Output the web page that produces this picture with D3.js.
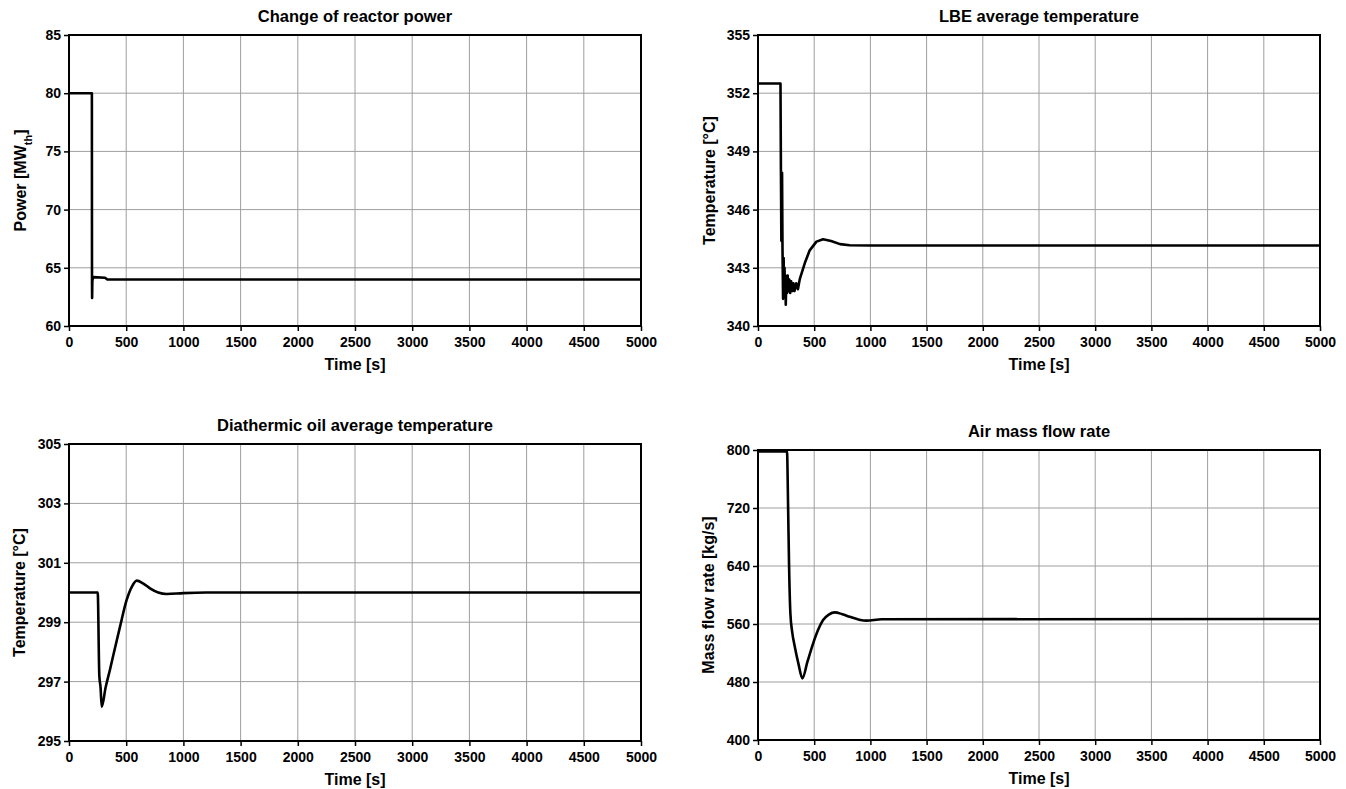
<!DOCTYPE html>
<html>
<head>
<meta charset="utf-8" />
<style>
  html, body { margin: 0; padding: 0; background: #fff; }
  svg { font-family: "Liberation Sans", Arial, sans-serif; font-weight: bold; }
  .grid line { stroke: #9e9e9e; stroke-width: 1px; }
  .frame { fill: none; stroke: #000; stroke-width: 2px; }
  .curve { fill: none; stroke: #000; stroke-width: 2.6px; stroke-linejoin: round; }
  .tick text { font-size: 14px; fill: #000; }
  .tick line { stroke: #000; stroke-width: 1.5px; }
  .title { font-size: 16.5px; fill: #000; }
  .label { font-size: 16px; fill: #000; }
</style>
</head>
<body>
<div id="vis"></div>
<script src="https://d3js.org/d3.v7.min.js"></script>
<script>
// ** DATA **
var timeTicks = [0, 500, 1000, 1500, 2000, 2500, 3000, 3500, 4000, 4500, 5000];

var powerTicks = [60, 65, 70, 75, 80, 85];
var powerData = [[0, 80], [200, 80], [201, 64], [202, 62.4], [204, 63.9], [212, 64.2],
  [315, 64.15], [335, 64.0], [5000, 64.0]];

var lbeTicks = [340, 343, 346, 349, 352, 355];
var lbeData = [[0, 352.5], [200, 352.5], [204, 348], [208, 344.4], [212, 346], [214, 347.9],
  [218, 344], [223, 341.4], [228, 343.5], [232, 341.8], [236, 343], [240, 341.6], [244, 342.6],
  [247, 341.1], [252, 342.5], [258, 341.7], [264, 342.6], [270, 341.8], [278, 342.4], [286, 341.7],
  [295, 342.3], [305, 341.8], [315, 342.2], [325, 341.8], [340, 342.2], [355, 341.9], [371, 342.4],
  [420, 343.3], [460, 343.9], [520, 344.35], [579, 344.47], [650, 344.38], [730, 344.22],
  [816, 344.16], [1000, 344.15], [5000, 344.15]];

var oilTicks = [295, 297, 299, 301, 303, 305];
var oilData = [[0, 300], [251, 300], [265, 297.2], [276, 296.8], [286, 296.15], [320, 296.8],
  [358, 297.4], [400, 298.1], [446, 298.85], [504, 299.75], [550, 300.2], [592, 300.4],
  [650, 300.3], [708, 300.14], [780, 300.0], [854, 299.95], [999, 299.98], [1200, 300.0], [5000, 300.0]];

var airTicks = [400, 480, 560, 640, 720, 800];
var airData = [[0, 798], [258, 798], [268, 720], [276, 644], [288, 575], [305, 548], [327, 529],
  [360, 505], [395, 485], [440, 508], [490, 533], [535, 552], [579, 565.5], [630, 573],
  [683, 576], [750, 573.5], [816, 570], [900, 566], [965, 564.6], [1100, 566.5], [5000, 567]];

var titles = ["Change of reactor power", "LBE average temperature",
  "Diathermic oil average temperature", "Air mass flow rate"];
var yLabels = ["Power [MW", "Temperature [°C]", "Temperature [°C]", "Mass flow rate [kg/s]"];
var xLabel = "Time [s]";

// ** LAYOUT **
var W = 1346, H = 789;
var panels = [
  { x0: 69, x1: 641, y0: 35, y1: 326, data: powerData, ticks: powerTicks, ylx: 26, sub: "th", curve: d3.curveLinear },
  { x0: 758, x1: 1320, y0: 35, y1: 326, data: lbeData, ticks: lbeTicks, ylx: 715, curve: d3.curveLinear },
  { x0: 69, x1: 641, y0: 444, y1: 741, data: oilData, ticks: oilTicks, ylx: 25, curve: d3.curveMonotoneX },
  { x0: 758, x1: 1320, y0: 450, y1: 740, data: airData, ticks: airTicks, ylx: 714, curve: d3.curveMonotoneX }
];

var svg = d3.select("#vis").append("svg").attr("width", W).attr("height", H);

panels.forEach(function(p, i) {
  var x = d3.scaleLinear().domain([0, 5000]).range([p.x0, p.x1]);
  var y = d3.scaleLinear().domain([p.ticks[0], p.ticks[p.ticks.length - 1]]).range([p.y1, p.y0]);
  var g = svg.append("g");

  // grid
  var grid = g.append("g").attr("class", "grid");
  grid.selectAll(".gx").data(timeTicks).enter().append("line")
    .attr("x1", function(d) { return x(d); }).attr("x2", function(d) { return x(d); })
    .attr("y1", p.y0).attr("y2", p.y1);
  grid.selectAll(".gy").data(p.ticks).enter().append("line")
    .attr("y1", function(d) { return y(d); }).attr("y2", function(d) { return y(d); })
    .attr("x1", p.x0).attr("x2", p.x1);

  // axes
  g.append("g").attr("transform", "translate(0," + p.y1 + ")")
    .call(d3.axisBottom(x).tickValues(timeTicks).tickSize(5).tickPadding(6).tickFormat(d3.format("d")))
    .call(function(a) { a.select(".domain").remove(); });
  g.append("g").attr("transform", "translate(" + p.x0 + ",0)")
    .call(d3.axisLeft(y).tickValues(p.ticks).tickSize(5).tickPadding(3).tickFormat(d3.format("d")))
    .call(function(a) { a.select(".domain").remove(); });
  g.selectAll(".tick text").attr("font-family", null).attr("font-size", null);

  // curve
  var line = d3.line().curve(p.curve)
    .x(function(d) { return x(d[0]); }).y(function(d) { return y(d[1]); });
  g.append("path").attr("class", "curve").attr("d", line(p.data));

  // frame
  g.append("rect").attr("class", "frame")
    .attr("x", p.x0).attr("y", p.y0).attr("width", p.x1 - p.x0).attr("height", p.y1 - p.y0);

  // texts
  g.append("text").attr("class", "title").attr("text-anchor", "middle")
    .attr("x", (p.x0 + p.x1) / 2).attr("y", p.y0 - 13).text(titles[i]);
  g.append("text").attr("class", "label").attr("text-anchor", "middle")
    .attr("x", (p.x0 + p.x1) / 2).attr("y", p.y1 + 44).text(xLabel);
  var yl = g.append("text").attr("class", "label").attr("text-anchor", "middle")
    .attr("transform", "translate(" + p.ylx + "," + (p.y0 + p.y1) / 2 + ") rotate(-90)")
    .text(yLabels[i]);
  if (p.sub) {
    yl.append("tspan").attr("baseline-shift", "sub").attr("font-size", "11px").text(p.sub);
    yl.append("tspan").text("]");
  }
});
</script>
</body>
</html>
